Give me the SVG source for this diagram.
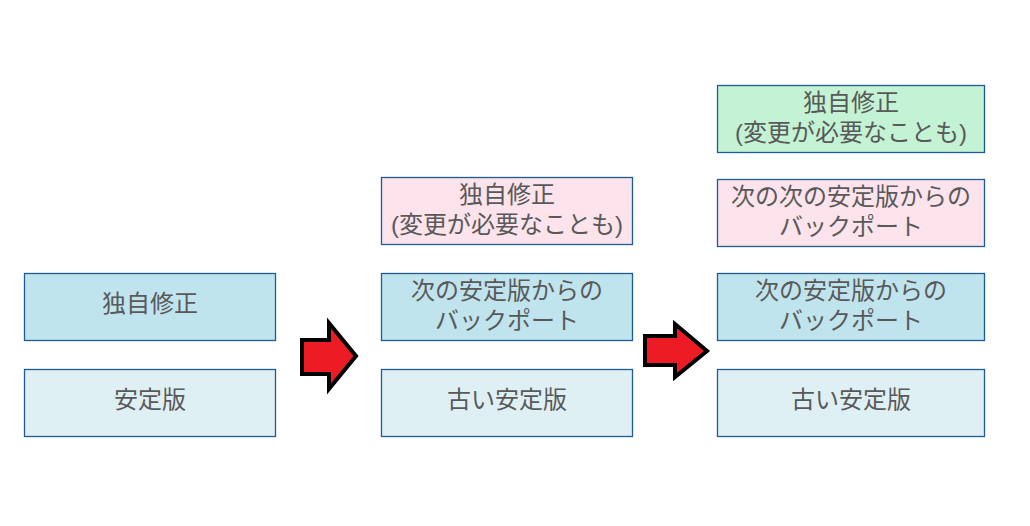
<svg xmlns="http://www.w3.org/2000/svg" width="1030" height="526" viewBox="0 0 1030 526">
<style>
.box{stroke:#1f5b96;stroke-width:1.3}
.pink{fill:#fce3ec}
.blue{fill:#c0e4ee}
.light{fill:#dff0f5}
.green{fill:#c3f3d4}
text{font-family:"Liberation Sans","Noto Sans CJK JP",sans-serif;font-size:24px;fill:#595959;text-anchor:middle;dominant-baseline:central}
.arrow{fill:#ed1c24;stroke:#000;stroke-width:4;stroke-linejoin:miter}
</style>
<rect width="1030" height="526" fill="#fff"/>
<g id="n1"><rect class="box blue" x="24.5" y="273.5" width="251" height="67"/><text x="150" y="303">独自修正</text></g>
<g id="n2"><rect class="box light" x="24.5" y="369.5" width="251" height="67"/><text x="150" y="399">安定版</text></g>
<g id="n3"><rect class="box pink" x="381.5" y="177.5" width="251" height="67"/><text x="507" y="194">独自修正</text><text x="507" y="224">(変更が必要なことも)</text></g>
<g id="n4"><rect class="box blue" x="381.5" y="273.5" width="251" height="67"/><text x="507" y="290">次の安定版からの</text><text x="507" y="320">バックポート</text></g>
<g id="n5"><rect class="box light" x="381.5" y="369.5" width="251" height="67"/><text x="507" y="399">古い安定版</text></g>
<g id="n6"><rect class="box green" x="717.5" y="85.5" width="267" height="67"/><text x="851" y="102">独自修正</text><text x="851" y="132">(変更が必要なことも)</text></g>
<g id="n7"><rect class="box pink" x="717.5" y="179.5" width="267" height="67"/><text x="851" y="196">次の次の安定版からの</text><text x="851" y="226">バックポート</text></g>
<g id="n8"><rect class="box blue" x="717.5" y="273.5" width="267" height="67"/><text x="851" y="290">次の安定版からの</text><text x="851" y="320">バックポート</text></g>
<g id="n9"><rect class="box light" x="717.5" y="369.5" width="267" height="67"/><text x="851" y="399">古い安定版</text></g>
<g id="connectors">
<polygon class="arrow" points="302,340 329,340 329,323 356,356 329,389 329,374 302,374"/>
<polygon class="arrow" points="645,336 675,336 675,324 707,351 675,377 675,365 645,365"/>
</g>
</svg>
